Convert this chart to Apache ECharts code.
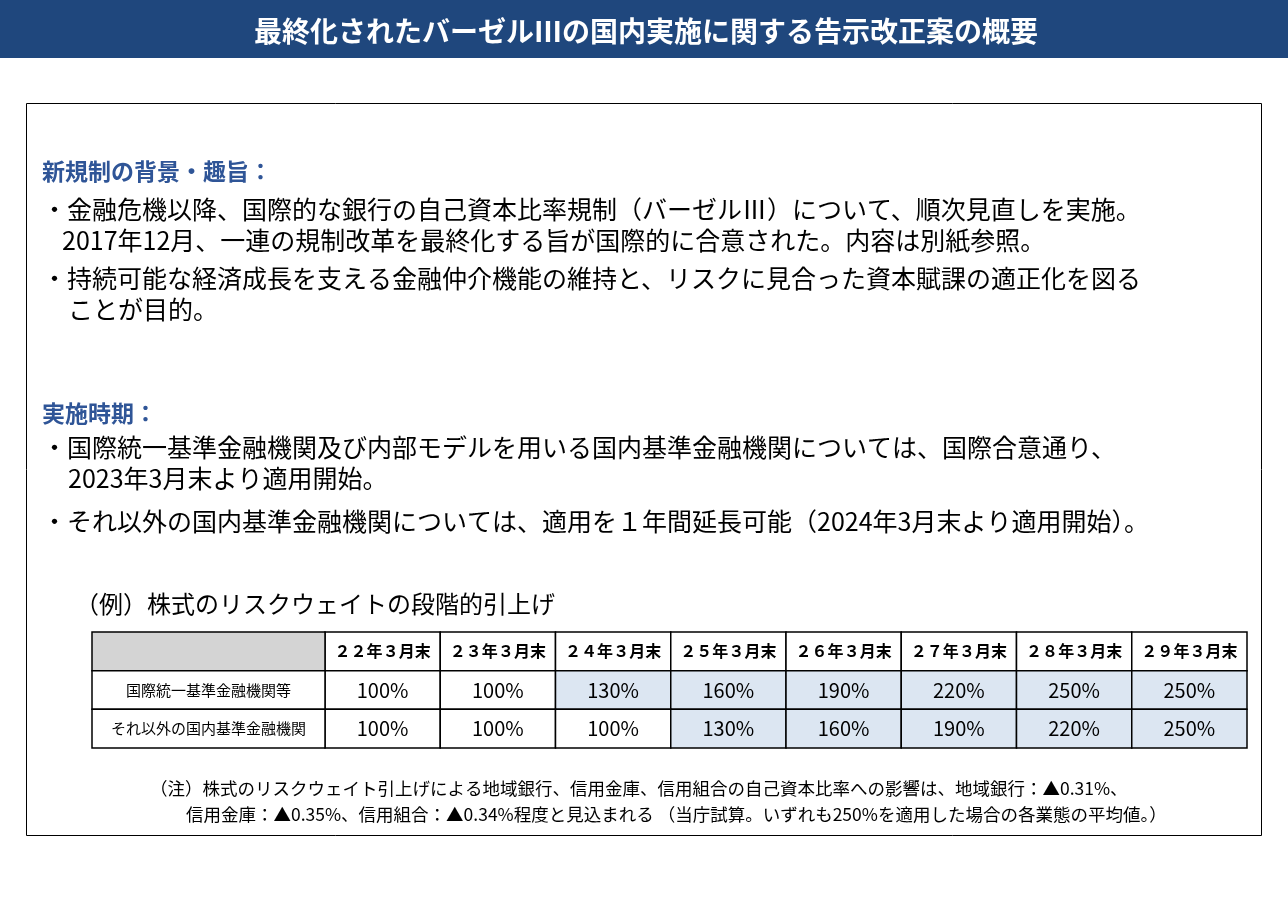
<!DOCTYPE html>
<html><head><meta charset="utf-8">
<script src="https://cdn.jsdelivr.net/npm/echarts@6/dist/echarts.min.js"></script>
<style>html,body{margin:0;padding:0;background:#fff}#c{width:1288px;height:898px}</style>
</head><body><div id="c"></div>
<script>
const columns=['２２年３月末','２３年３月末','２４年３月末','２５年３月末','２６年３月末','２７年３月末','２８年３月末','２９年３月末'];
const rowNames=['国際統一基準金融機関等','それ以外の国内基準金融機関'];
const intlValues=[100,100,130,160,190,220,250,250];
const domesticValues=[100,100,100,130,160,190,220,250];
const F='"Noto Sans CJK JP","Noto Sans",sans-serif';
const rowsY=['header','r0','r1'];
const data=[];
columns.forEach((c,i)=>data.push([i,0,c,-1]));
intlValues.forEach((v,i)=>data.push([i,1,v+'%',v]));
domesticValues.forEach((v,i)=>data.push([i,2,v+'%',v]));
data.push([0,0,'',-2,'label']);
data.push([0,1,rowNames[0],-3,'label']);
data.push([0,2,rowNames[1],-3,'label']);
const chart=echarts.init(document.getElementById('c'));
function txt(x,y,s,size,opt){return Object.assign({type:'text',x:x,y:y,style:{text:s,fontSize:size,fontFamily:F,fill:'#000',textVerticalAlign:'middle'}},opt||{});}
const blue='#2F5597';
const B=25;
chart.setOption({
 animation:false,
 grid:{left:325,right:41,top:632,bottom:150},
 xAxis:{type:'category',data:columns,show:false},
 yAxis:{type:'category',data:rowsY,inverse:true,show:false},
 graphic:[
  {type:'rect',shape:{x:0,y:0,width:1288,height:58},style:{fill:'#1F477D'}},
  {type:'text',x:646,y:31,style:{text:'最終化されたバーゼルⅢの国内実施に関する告示改正案の概要',fontSize:28,fontWeight:'bold',fontFamily:F,fill:'#fff',textAlign:'center',textVerticalAlign:'middle'}},
  {type:'rect',shape:{x:26.5,y:103.5,width:1235,height:732},style:{fill:'none',stroke:'#000',lineWidth:1}},
  txt(42,171,'',22,{style:{text:'新規制の背景・趣旨：',fontSize:23,fontWeight:'bold',fontFamily:F,fill:blue,textVerticalAlign:'middle'}}),
  txt(42,209,'・金融危機以降、国際的な銀行の自己資本比率規制（バーゼルⅢ）について、順次見直しを実施。',B),
  txt(62,240,'2017年12月、一連の規制改革を最終化する旨が国際的に合意された。内容は別紙参照。',B),
  txt(42,278,'・持続可能な経済成長を支える金融仲介機能の維持と、リスクに見合った資本賦課の適正化を図る',B),
  txt(68,309,'ことが目的。',B),
  txt(42,413,'',22,{style:{text:'実施時期：',fontSize:23,fontWeight:'bold',fontFamily:F,fill:blue,textVerticalAlign:'middle'}}),
  txt(42,447,'・国際統一基準金融機関及び内部モデルを用いる国内基準金融機関については、国際合意通り、',B),
  txt(68,478,'2023年3月末より適用開始。',B),
  txt(42,521,'・それ以外の国内基準金融機関については、適用を１年間延長可能（2024年3月末より適用開始）。',B),
  txt(75,604,'（例）株式のリスクウェイトの段階的引上げ',24),
  txt(150,788,'（注）株式のリスクウェイト引上げによる地域銀行、信用金庫、信用組合の自己資本比率への影響は、地域銀行：▲0.31%、',17.5),
  txt(186,814,'信用金庫：▲0.35%、信用組合：▲0.34%程度と見込まれる （当庁試算。いずれも250%を適用した場合の各業態の平均値。）',17.5)
 ],
 series:[{type:'custom',data:data,encode:{x:0,y:1},renderItem:function(params,api){
   const xi=api.value(0),yi=api.value(1),kind=api.value(3);
   const p=api.coord([xi,yi]);const s=api.size([1,1]);
   let x=p[0]-s[0]/2,w=s[0];
   const y=p[1]-s[1]/2,h=s[1];
   const isLabel=data[params.dataIndex][4]==='label';
   if(isLabel){w=233;x=x-233;}
   let fill='#fff';
   if(isLabel&&yi===0) fill='#d4d4d4';
   else if(!isLabel&&kind>100) fill='#DCE6F2';
   const t=api.value(2);
   const fs=isLabel?15:(yi===0?16:20);
   return {type:'group',children:[
     {type:'rect',shape:{x:x,y:y,width:w,height:h},style:{fill:fill,stroke:'#000',lineWidth:1.5}},
     {type:'text',style:{x:x+w/2,y:y+h/2,text:t,fontSize:fs,fontFamily:F,fill:'#000',textAlign:'center',textVerticalAlign:'middle',fontWeight:(yi===0&&!isLabel)?'bold':'normal'}}
   ]};
 }}]
});
</script></body></html>
